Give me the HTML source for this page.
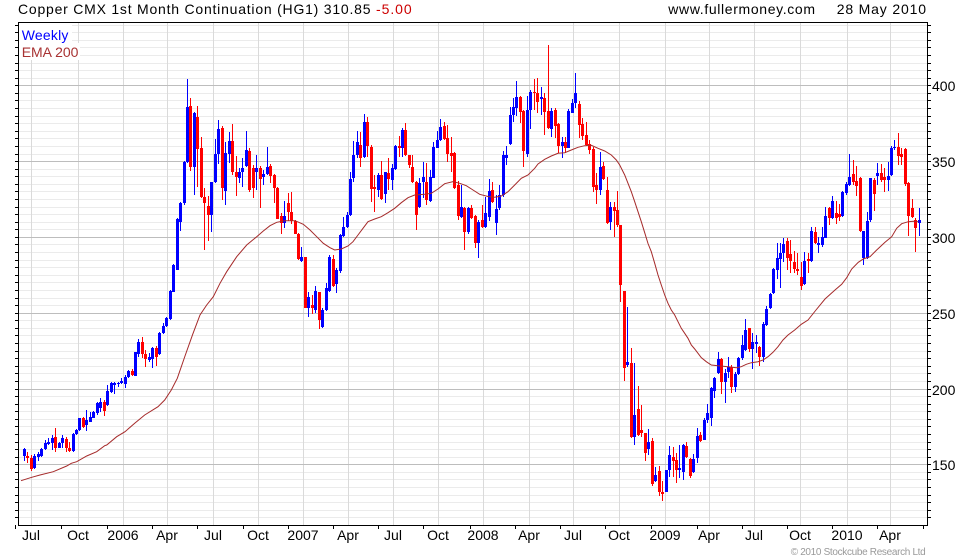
<!DOCTYPE html>
<html><head><meta charset="utf-8"><style>
html,body{margin:0;padding:0;background:#fff;}
svg{display:block;font-family:"Liberation Sans",Arial,sans-serif;}
</style></head><body>
<svg id="s" width="980" height="560" viewBox="0 0 980 560" xmlns="http://www.w3.org/2000/svg">
<rect width="980" height="560" fill="#fff"/>
<g id="minor" stroke="#ebebeb" stroke-width="1" shape-rendering="crispEdges"></g>
<g stroke="#dadada" stroke-width="1" shape-rendering="crispEdges">
<line x1="31.5" y1="23" x2="31.5" y2="525"/><line x1="78.5" y1="23" x2="78.5" y2="525"/>
<line x1="123.5" y1="23" x2="123.5" y2="525"/><line x1="167.5" y1="23" x2="167.5" y2="525"/>
<line x1="213.5" y1="23" x2="213.5" y2="525"/><line x1="258.5" y1="23" x2="258.5" y2="525"/>
<line x1="303.5" y1="23" x2="303.5" y2="525"/><line x1="348.5" y1="23" x2="348.5" y2="525"/>
<line x1="393.5" y1="23" x2="393.5" y2="525"/><line x1="438.5" y1="23" x2="438.5" y2="525"/>
<line x1="483.5" y1="23" x2="483.5" y2="525"/><line x1="529.5" y1="23" x2="529.5" y2="525"/>
<line x1="573.5" y1="23" x2="573.5" y2="525"/><line x1="619.5" y1="23" x2="619.5" y2="525"/>
<line x1="665.5" y1="23" x2="665.5" y2="525"/><line x1="709.5" y1="23" x2="709.5" y2="525"/>
<line x1="754.5" y1="23" x2="754.5" y2="525"/><line x1="800.5" y1="23" x2="800.5" y2="525"/>
<line x1="847.5" y1="23" x2="847.5" y2="525"/><line x1="890.5" y1="23" x2="890.5" y2="525"/>
</g>
<g stroke="#bdbdbd" stroke-width="1" shape-rendering="crispEdges">
<line x1="19" y1="85.5" x2="927" y2="85.5"/><line x1="19" y1="161.5" x2="927" y2="161.5"/>
<line x1="19" y1="237.5" x2="927" y2="237.5"/><line x1="19" y1="313.5" x2="927" y2="313.5"/>
<line x1="19" y1="389.5" x2="927" y2="389.5"/><line x1="19" y1="464.5" x2="927" y2="464.5"/>
</g>
<rect x="19" y="23" width="53" height="20" fill="#fff"/>
<rect x="19" y="43" width="61" height="17" fill="#fff"/>
<g id="candles" shape-rendering="crispEdges"></g>
<polyline fill="none" stroke="#a52a2a" stroke-width="1" points="21,480.7 31.7,477.3 40,475 53.3,471.7 66.7,466 71.3,463.3 76.7,461.7 86.7,456 96.7,451.7 104.7,445.7 106.7,445 116.7,436.7 125,431.7 134.7,423.3 144.7,415 158,406.7 164.7,400 171.3,390 177.3,378.3 185,356 192.7,334.3 200,315 206.7,305 213.3,296.7 220,283.3 226.7,271.7 236.7,256.7 246.7,245 256.7,236.7 263.3,231 270,225.7 276.7,222.3 285,220.7 295,220.7 303.3,224.3 310,230 316.7,236.7 323.3,243.3 330,247.7 334.7,250 341.3,249 348,246 353,241.7 358,235 363,228.3 368,221.7 374.7,219 381.3,216.7 388,212.7 394.7,208.3 401.3,202.7 408,197.7 414.7,195 424.7,194.3 431.3,193.3 438,189 444.7,183.7 453,181.7 459.7,183.3 466.3,185.7 473,190 479.7,194.3 488,196.5 494.7,197.3 501.3,196 508,191.7 514.7,185 521.3,178.3 528,175 534.7,168.3 538,164 544.7,159.3 551.3,156 558,153.3 564.7,152.7 571.3,150 578,147.3 584.7,145.7 591.3,145.3 598,148.3 604.7,151 611.3,155 616.3,160 619.7,165 624.7,175 628,183.3 631.3,191.7 634.7,201.7 638,211.7 641.3,221.7 644.7,232.7 648,243.5 651.3,251.7 654.7,263.3 658,275 661.3,285 664.7,295 668,303.3 671.3,310 674.7,315 678,321.7 681.3,328.3 684.7,333.3 688,338.3 691.3,345 694.7,349 698,353.3 701.3,357.7 706.3,361.7 711.3,365 718,365.7 728,366.7 736.3,367.7 741.3,366.7 746.3,364.3 751.3,362.7 758,361.7 763,360 768,356.7 773,352.3 778,346.7 783,340 788,335 794.7,330 801.3,324.3 808,320 816,310 825,299 835,290 841.7,284.3 846.7,277.7 851.7,269 858.3,262.3 863.3,259 870,256.7 876.7,250 885,242.3 891.7,236.7 896.7,228.3 901.7,223.7 908.3,221.7 913.3,221.3 918.3,221.7"/>
<rect x="18.5" y="22.5" width="909" height="503" fill="none" stroke="#000" stroke-width="1" shape-rendering="crispEdges"/>
<g id="ticks" stroke="#000" stroke-width="1" shape-rendering="crispEdges"></g>
<text x="18" y="14" font-size="14" fill="#000" textLength="352.5" lengthAdjust="spacing">Copper CMX 1st Month Continuation (HG1) 310.85</text>
<text x="376" y="14" font-size="14" fill="#cc0000" textLength="35.7" lengthAdjust="spacing">-5.00</text>
<text x="668.3" y="14" font-size="14" fill="#000" textLength="146.7" lengthAdjust="spacing">www.fullermoney.com</text>
<text x="836.7" y="14" font-size="14" fill="#000" textLength="89.3" lengthAdjust="spacing">28 May 2010</text>
<text x="21.7" y="40" font-size="14" fill="#0000ff" textLength="46.7" lengthAdjust="spacing">Weekly</text>
<text x="21.7" y="57" font-size="14" fill="#a83232" textLength="56.7" lengthAdjust="spacing">EMA 200</text>
<g font-size="14" fill="#000">
<text x="932" y="91">400</text><text x="932" y="167">350</text><text x="932" y="243">300</text>
<text x="932" y="319">250</text><text x="932" y="395">200</text><text x="932" y="470">150</text>
</g>
<g font-size="14" fill="#000" text-anchor="middle">
<text x="31" y="540">Jul</text><text x="78" y="540">Oct</text><text x="123" y="540">2006</text>
<text x="167" y="540">Apr</text><text x="213" y="540">Jul</text><text x="258" y="540">Oct</text>
<text x="303" y="540">2007</text><text x="348" y="540">Apr</text><text x="393" y="540">Jul</text>
<text x="438" y="540">Oct</text><text x="483" y="540">2008</text><text x="529" y="540">Apr</text>
<text x="573" y="540">Jul</text><text x="619" y="540">Oct</text><text x="665" y="540">2009</text>
<text x="709" y="540">Apr</text><text x="754" y="540">Jul</text><text x="800" y="540">Oct</text>
<text x="847" y="540">2010</text><text x="890" y="540">Apr</text>
</g>
<text x="790.7" y="555" font-size="10" fill="#999" textLength="135" lengthAdjust="spacing">© 2010 Stockcube Research Ltd</text>
</svg>
<script>
(function(){
function yv(v){return 85.3+(400-v)*1.516;}
var mg='';
for(var v=115;v<=440;v+=5){
  if(v%50===0)continue;
  var y=Math.round(yv(v));
  if(y<=23||y>=525)continue;
  mg+='<line x1="19" y1="'+(y+0.5)+'" x2="927" y2="'+(y+0.5)+'"/>';
}
document.getElementById('minor').innerHTML=mg;
var tk='';
for(var v=110;v<=440;v+=5){
  var y=Math.round(yv(v));
  if(y<=22||y>=525)continue;
  tk+='<line x1="15" y1="'+(y+0.5)+'" x2="18" y2="'+(y+0.5)+'"/>';
  tk+='<line x1="928" y1="'+(y+0.5)+'" x2="931" y2="'+(y+0.5)+'"/>';
}
var bx=[15,61,107,152,197,243,288,333,378,423,470,515,560,605,651,697,742,787,832,877,923];
for(var k=0;k<bx.length;k++){
  tk+='<line x1="'+(bx[k]+0.5)+'" y1="525" x2="'+(bx[k]+0.5)+'" y2="529"/>';
}
document.getElementById('ticks').innerHTML=tk;

var S=[
{oy:75,i0:0,d:[
[18,'b',1122,1142,1118,1158],[28,'r',1142,1148,1132,1165],[40,'r',1148,1183,1140,1188],[50,'b',1142,1180,1137,1182],
[62,'b',1138,1145,1130,1158],[70,'b',1122,1142,1118,1145],[82,'b',1105,1122,1095,1125],[92,'b',1100,1107,1088,1110],
[103,'b',1088,1105,1080,1125],[112,'r',1085,1118,1058,1130],[124,'b',1105,1118,1100,1120],[134,'b',1090,1105,1080,1120],
[144,'r',1092,1120,1085,1130],[154,'r',1118,1128,1100,1132],[166,'b',1078,1128,1075,1130],[176,'b',1065,1078,1062,1080],
[184,'b',1028,1065,1028,1068],[196,'r',1030,1055,1025,1060],[206,'b',1035,1050,1005,1068],[216,'b',1025,1040,1010,1042],
[226,'b',1010,1028,1008,1030],[238,'b',985,1015,980,1020],[248,'b',980,1000,968,1010],[258,'r',980,1008,975,1022],
[268,'b',948,990,930,993],[280,'b',925,950,922,955],[290,'b',925,930,920,958],[300,'b',925,928,920,935],
[310,'b',918,925,910,928],[322,'b',905,928,900,940],[332,'b',888,905,885,910],[340,'r',888,900,883,903],
[352,'b',832,902,830,902],[362,'b',800,838,793,845],[372,'r',800,838,787,850],[382,'r',838,852,825,875],
[394,'b',845,855,835,860],[402,'b',818,852,815,880],[414,'r',818,845,812,872],[424,'b',773,838,770,840],
[436,'b',752,775,745,778],[446,'b',730,752,725,755],[458,'b',648,732,645,735],[466,'b',570,650,568,652],
[478,'b',432,585,430,585]]},
{oy:75,i0:45,d:[
[30,'b',385,440,380,468],[40,'b',262,385,258,390],[52,'b',95,262,12,265],[60,'r',92,275,68,288],
[72,'b',115,275,112,360],[82,'r',125,222,92,335],[94,'r',220,365,185,368],[103,'r',365,385,338,525],
[115,'r',392,420,362,498],[124,'b',322,420,320,470],[136,'b',238,322,192,325],[145,'b',162,238,135,268],
[157,'r',158,340,152,375],[166,'b',235,348,200,390],[178,'b',198,238,172,265],[187,'r',198,290,148,300],
[196,'r',290,305,242,362],[208,'b',290,308,280,325],[218,'b',278,290,250,335],[229,'b',225,272,168,275],
[238,'r',228,345,220,350],[250,'r',280,340,270,368],[259,'b',278,290,240,345],[270,'r',278,312,272,400],
[280,'b',296,305,285,330],[292,'b',275,298,215,300],[301,'r',272,302,268,325],[312,'r',300,340,298,385],
[322,'r',340,432,335,432],[332,'r',422,445,415,478],[344,'b',422,445,378,458],[352,'r',385,410,355,438],
[364,'r',410,438,350,448],[373,'r',438,478,435,478],[384,'r',478,553,475,555],[394,'b',545,558,515,560],
[405,'r',545,698,545,700],[415,'b',665,698,650,725],[426,'r',690,700,660,718],[436,'b',648,705,632,715],
[447,'r',652,735,650,762],[457,'b',705,755,700,760],[468,'b',640,705,625,708],[478,'b',545,648,540,650]]},
{oy:75,i0:89,d:[
[16,'r',552,632,540,635],[25,'b',585,628,580,655],[34,'b',480,588,478,595],[46,'b',455,482,425,485],
[56,'b',420,455,410,458],[66,'b',312,420,292,422],[76,'b',240,308,198,320],[88,'b',202,240,168,248],
[97,'r',210,248,172,275],[108,'b',142,245,118,248],[118,'r',142,212,125,245],[130,'r',215,342,210,380],
[139,'r',335,342,300,410],[150,'b',300,345,295,365],[160,'r',300,372,258,375],[172,'b',292,358,290,385],
[181,'r',295,312,250,345],[190,'b',278,315,268,345],[202,'b',212,283,210,285],[211,'r',212,218,183,245],
[222,'b',165,218,158,245],[232,'r',165,240,145,242],[244,'r',240,270,240,278],[253,'r',275,322,240,325],
[264,'r',322,420,318,465],[274,'b',325,395,310,398],[286,'b',305,322,260,368],[295,'r',322,375,265,390],
[306,'b',305,378,285,380],[316,'b',215,308,200,310],[327,'b',195,218,168,220],[337,'b',155,195,132,198],
[347,'r',152,192,140,195],[358,'r',190,238,150,260],[368,'r',235,242,185,290],[378,'r',235,340,232,342],
[388,'r',330,422,318,435],[400,'b',395,425,330,428],[409,'r',400,472,395,525],[420,'b',400,472,395,478],
[430,'r',400,430,390,432],[442,'r',422,505,420,518],[452,'b',440,505,436,550],[463,'r',435,455,390,458],
[473,'b',415,455,365,458]]},
{oy:40,i0:134,d:[
[4,'b',452,532,418,542],[14,'r',450,485,425,488],[25,'b',508,548,465,585],[35,'b',465,505,435,510],
[44,'b',345,465,332,470],[55,'b',345,355,318,375],[64,'b',225,312,200,315],[75,'b',202,225,175,245],
[85,'b',172,205,122,228],[97,'r',172,215,168,248],[106,'r',212,332,210,380],[118,'b',210,342,168,352],
[127,'b',155,210,150,268],[138,'r',155,160,118,210],[148,'r',158,185,115,218],[160,'b',170,178,140,225],
[169,'r',175,215,160,285],[180,'r',212,265,15,268],[190,'b',212,268,205,292],[200,'r',210,258,205,295],
[211,'r',252,318,250,338],[220,'b',305,318,292,355],[232,'r',305,325,290,340],[241,'b',212,325,208,325],
[252,'b',188,218,178,220],[262,'b',158,190,98,205],[273,'r',192,255,182,295],[283,'r',252,288,235,300],
[294,'r',285,315,245,318],[304,'r',312,330,300,342],[315,'r',328,440,322,455],[325,'r',435,450,400,492],
[337,'b',380,450,335,465],[346,'r',378,418,365,420],[355,'r',450,550,410,552],[367,'b',500,545,485,570],
[376,'r',500,512,485,590],[388,'r',510,555,452,560],[397,'r',555,735,555,785],[409,'r',752,985,752,1022],
[418,'b',965,975,802,980],[430,'r',970,1190,925,1195],[439,'b',1125,1190,968,1215],[450,'r',1108,1185,1038,1188],
[460,'r',1170,1178,1095,1190],[472,'r',1178,1240,1178,1262]]},
{oy:225,i0:180,d:[
[2,'b',650,672,612,690],[12,'r',648,778,640,782],[22,'b',750,768,725,770],[32,'r',738,800,722,812],
[42,'r',800,808,768,828],[52,'b',735,800,735,802],[64,'b',690,735,662,755],[73,'r',695,708,665,755],
[84,'r',705,735,685,775],[94,'b',730,735,660,760],[106,'b',660,742,658,765],[115,'r',662,695,650,700],
[127,'r',702,752,700,758],[136,'b',702,742,688,745],[148,'b',632,698,608,715],[157,'r',630,648,622,652],
[168,'b',585,645,580,645],[178,'b',565,585,538,595],[187,'b',488,578,485,602],[199,'b',458,498,455,520],
[208,'b',402,445,380,448],[219,'r',402,470,400,508],[229,'b',445,472,432,535],[240,'b',425,440,395,460],
[250,'r',425,485,420,505],[262,'b',448,485,440,500],[271,'b',400,448,395,450],[282,'b',360,400,330,405],
[292,'b',315,375,282,378],[304,'r',310,372,308,380],[313,'b',350,372,325,432],[325,'b',350,358,330,385],
[335,'r',367,395,362,422],[344,'b',298,395,292,410],[355,'b',252,300,242,302],[365,'b',208,250,205,252],
[376,'b',132,205,128,208],[386,'b',100,135,55,162],[397,'b',83,102,55,188],[407,'b',58,85,38,112],
[418,'r',48,98,40,135],[428,'r',88,108,45,145],[439,'r',110,132,78,145],[449,'r',132,138,85,150],
[460,'r',155,182,110,195],[470,'b',108,178,80,180]]},
{oy:125,i0:226,d:[
[10,'r',402,408,385,445],[19,'b',318,408,305,410],[28,'r',322,355,305,358],[40,'b',355,360,335,385],
[49,'b',335,360,305,365],[60,'b',272,338,245,340],[70,'r',250,280,245,300],[80,'b',228,278,212,282],
[91,'r',265,280,228,297],[102,'r',268,275,238,288],[112,'b',200,272,198,275],[124,'b',178,205,170,210],
[133,'b',155,180,88,182],[144,'r',148,170,105,180],[155,'r',168,182,122,212],[166,'r',160,318,155,322],
[175,'b',318,398,318,420],[185,'b',288,398,262,402],[195,'b',160,285,158,290],[205,'r',165,208,158,258],
[216,'b',145,152,115,180],[226,'r',145,165,118,172],[236,'r',155,165,128,202],[246,'b',152,165,112,198],
[258,'b',68,150,62,152],[268,'b',65,70,45,75],[280,'r',65,92,25,120],[290,'r',88,95,68,120],
[300,'r',72,178,70,182],[311,'r',175,272,172,332],[322,'r',248,275,222,278],[331,'r',285,308,278,380],
[341,'b',285,295,250,333]]}
];
var out='';
for(var s=0;s<S.length;s++){
  var seg=S[s];
  for(var k=0;k<seg.d.length;k++){
    var c=seg.d[k], i=seg.i0+k;
    var x=Math.round(24+i*3.468);
    var col=c[1]==='b'?'#0000ff':'#ff0000';
    var bt=Math.round(seg.oy+c[2]/3), bb=Math.round(seg.oy+c[3]/3);
    var wt=Math.round(seg.oy+c[4]/3), wb=Math.round(seg.oy+c[5]/3);
    if(wt>bt)wt=bt; if(wb<bb)wb=bb;
    out+='<rect x="'+x+'" y="'+wt+'" width="1" height="'+Math.max(1,wb-wt)+'" fill="'+col+'"/>';
    out+='<rect x="'+(x-1)+'" y="'+bt+'" width="3" height="'+Math.max(1,bb-bt)+'" fill="'+col+'"/>';
  }
}
document.getElementById('candles').innerHTML=out;
})();
</script>
</body></html>
